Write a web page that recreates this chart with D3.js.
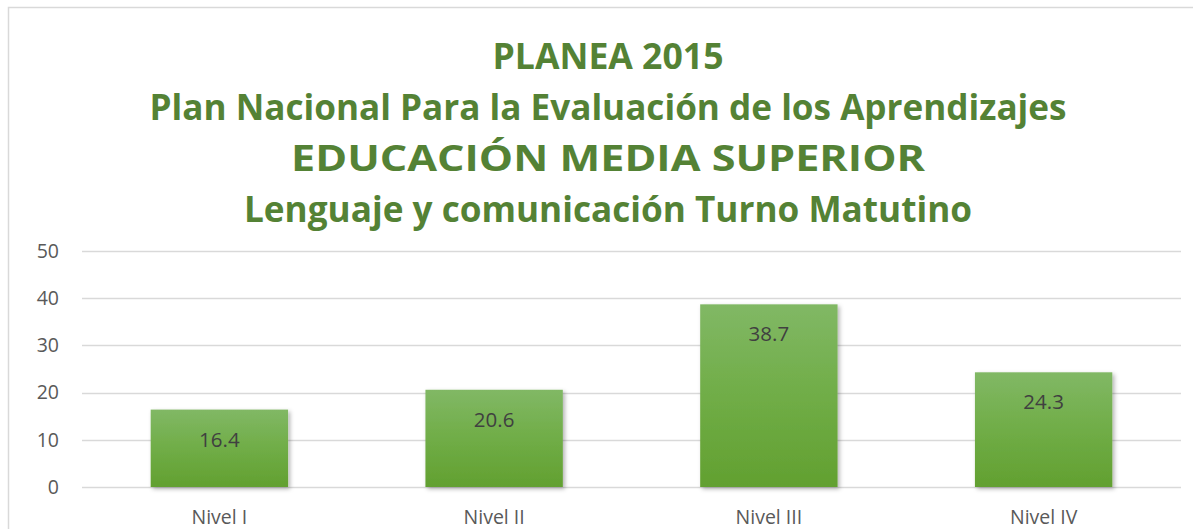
<!DOCTYPE html>
<html><head><meta charset="utf-8">
<script src="https://cdn.jsdelivr.net/npm/d3@7"></script>
<style>html,body{margin:0;padding:0;background:#fff;overflow:hidden}</style>
</head><body>
<svg id="c" width="1193" height="529"></svg>
<script>
const categories = ["Nivel I", "Nivel II", "Nivel III", "Nivel IV"];
const values = [16.4, 20.6, 38.7, 24.3];
const yTicks = [0, 10, 20, 30, 40, 50];
const titleLines = ["PLANEA 2015", "Plan Nacional Para la Evaluación de los Aprendizajes", "EDUCACIÓN MEDIA SUPERIOR", "Lenguaje y comunicación Turno Matutino"];

const svg = d3.select("#c");
const W = 1193, H = 529;
const m = {left: 82, right: 12, top: 251, bottom: 42};

// outer chart border
svg.append("rect").attr("x", 8.5).attr("y", 7.5).attr("width", 1200).attr("height", 600)
  .attr("fill", "#fff").attr("stroke", "#d9d9d9").attr("stroke-width", 1.5);

const defs = svg.append("defs");
const g1 = defs.append("linearGradient").attr("id", "bg").attr("x1", 0).attr("y1", 0).attr("x2", 0).attr("y2", 1);
g1.append("stop").attr("offset", "0%").attr("stop-color", "#81b865");
g1.append("stop").attr("offset", "50%").attr("stop-color", "#70ad47");
g1.append("stop").attr("offset", "100%").attr("stop-color", "#62a030");
const f = defs.append("filter").attr("id", "sh").attr("x", "-10%").attr("y", "-10%").attr("width", "130%").attr("height", "130%");
f.append("feDropShadow").attr("dx", 2).attr("dy", 2).attr("stdDeviation", 2).attr("flood-color", "#000").attr("flood-opacity", 0.3);

// title
const titleY = [69, 120, 171, 222];
const titleW = [231, 917, 634, 728];
svg.append("g").selectAll("text").data(titleLines).join("text")
  .attr("x", 608).attr("y", (d, i) => titleY[i])
  .attr("text-anchor", "middle")
  .attr("font-family", "'Open Sans', sans-serif").attr("font-weight", "bold")
  .attr("font-size", 36).attr("fill", "#548235")
  .attr("textLength", (d, i) => titleW[i]).attr("lengthAdjust", "spacingAndGlyphs")
  .text(d => d);

const x = d3.scaleBand().domain(categories).range([m.left, W - m.right]).paddingInner(0.5).paddingOuter(0.25);
const y = d3.scaleLinear().domain([0, 50]).range([487, 251]);

// gridlines
svg.append("g").selectAll("line").data(yTicks).join("line")
  .attr("x1", m.left).attr("x2", W - m.right)
  .attr("y1", d => Math.round(y(d)) + 0.5).attr("y2", d => Math.round(y(d)) + 0.5)
  .attr("stroke", "#d9d9d9").attr("stroke-width", 1.5);

// y axis labels
const yAxis = d3.axisLeft(y).tickValues(yTicks).tickSize(0).tickPadding(0);
const ya = svg.append("g").attr("transform", "translate(59,0)").call(yAxis);
ya.select(".domain").remove();
ya.selectAll("text").attr("font-family", "'Open Sans', sans-serif").attr("font-size", 19.5).attr("fill", "#595959");

// bars
svg.append("g").selectAll("rect").data(values).join("rect")
  .attr("x", (d, i) => x(categories[i])).attr("width", x.bandwidth())
  .attr("y", d => y(d)).attr("height", d => y(0) - y(d))
  .attr("fill", "url(#bg)").attr("filter", "url(#sh)");

// data labels
svg.append("g").selectAll("text").data(values).join("text")
  .attr("x", (d, i) => x(categories[i]) + x.bandwidth() / 2)
  .attr("y", d => y(d) + 37)
  .attr("text-anchor", "middle")
  .attr("font-family", "'Open Sans', sans-serif").attr("font-size", 20.5).attr("fill", "#404040")
  .text(d => d.toFixed(1));

// x axis labels
const xAxis = d3.axisBottom(x).tickSize(0).tickPadding(0);
const xa = svg.append("g").attr("transform", "translate(0,510)").call(xAxis);
xa.select(".domain").remove();
xa.selectAll("text").attr("font-family", "'Open Sans', sans-serif").attr("font-size", 19.5).attr("fill", "#595959");
</script>
</body></html>
